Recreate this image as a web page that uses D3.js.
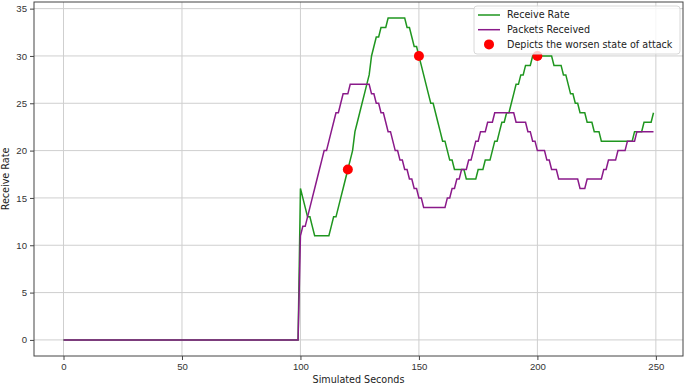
<!DOCTYPE html>
<html>
<head>
<meta charset="utf-8">
<script src="https://cdn.jsdelivr.net/npm/d3@7"></script>
<style>
    body { margin: 0; background: #fff; }
    svg { display: block; font-family: "DejaVu Sans", sans-serif; }
    .tick text { fill: #333; font-size: 9.6px; }
    .label { fill: #222; font-size: 9.6px; }
    .legend text { fill: #222; font-size: 9.6px; }
</style>
</head>
<body>
<svg id="chart" width="685" height="385"></svg>
<script>
// one value per simulated second, 0..249
const receiveRate = [
    0, 0, 0, 0, 0, 0, 0, 0, 0, 0, 0, 0, 0, 0, 0, 0, 0, 0, 0, 0, 0, 0, 0, 0, 0,
    0, 0, 0, 0, 0, 0, 0, 0, 0, 0, 0, 0, 0, 0, 0, 0, 0, 0, 0, 0, 0, 0, 0, 0, 0,
    0, 0, 0, 0, 0, 0, 0, 0, 0, 0, 0, 0, 0, 0, 0, 0, 0, 0, 0, 0, 0, 0, 0, 0, 0,
    0, 0, 0, 0, 0, 0, 0, 0, 0, 0, 0, 0, 0, 0, 0, 0, 0, 0, 0, 0, 0, 0, 0, 0, 0,
    16, 15, 14, 13, 13, 12, 11, 11, 11, 11,
    11, 11, 11, 12, 13, 13, 14, 15, 16, 17,
    18, 19, 20, 22, 23, 24, 25, 26, 27, 28,
    30, 31, 32, 32, 33, 33, 33, 34, 34, 34,
    34, 34, 34, 34, 34, 33, 33, 32, 31, 31,
    30, 29, 28, 27, 26, 25, 25, 24, 23, 22,
    21, 21, 20, 19, 19, 18, 18, 18, 18, 18,
    17, 17, 17, 17, 17, 18, 18, 18, 19, 19,
    19, 20, 21, 21, 22, 23, 23, 24, 24, 25,
    26, 27, 27, 28, 28, 29, 29, 29, 30, 30,
    30, 30, 30, 30, 30, 30, 30, 29, 29, 29,
    29, 28, 28, 27, 26, 26, 25, 25, 24, 24,
    24, 23, 23, 23, 22, 22, 22, 21, 21, 21,
    21, 21, 21, 21, 21, 21, 21, 21, 21, 21,
    21, 22, 22, 22, 22, 23, 23, 23, 23, 24
];

const packetsReceived = [
    0, 0, 0, 0, 0, 0, 0, 0, 0, 0, 0, 0, 0, 0, 0, 0, 0, 0, 0, 0, 0, 0, 0, 0, 0,
    0, 0, 0, 0, 0, 0, 0, 0, 0, 0, 0, 0, 0, 0, 0, 0, 0, 0, 0, 0, 0, 0, 0, 0, 0,
    0, 0, 0, 0, 0, 0, 0, 0, 0, 0, 0, 0, 0, 0, 0, 0, 0, 0, 0, 0, 0, 0, 0, 0, 0,
    0, 0, 0, 0, 0, 0, 0, 0, 0, 0, 0, 0, 0, 0, 0, 0, 0, 0, 0, 0, 0, 0, 0, 0, 0,
    11, 12, 12, 13, 14, 15, 16, 17, 18, 19,
    20, 20, 21, 22, 23, 24, 24, 25, 26, 26,
    26, 27, 27, 27, 27, 27, 27, 27, 27, 27,
    26, 26, 25, 25, 24, 24, 23, 22, 22, 21,
    20, 20, 19, 19, 18, 18, 17, 17, 16, 16,
    15, 15, 14, 14, 14, 14, 14, 14, 14, 14,
    14, 14, 15, 15, 16, 16, 17, 17, 18, 18,
    18, 19, 19, 20, 21, 21, 22, 22, 22, 23,
    23, 23, 24, 24, 24, 24, 24, 24, 24, 24,
    24, 23, 23, 23, 23, 23, 22, 22, 21, 21,
    20, 20, 20, 20, 19, 19, 18, 18, 18, 17,
    17, 17, 17, 17, 17, 17, 17, 17, 16, 16,
    16, 17, 17, 17, 17, 17, 17, 17, 18, 18,
    19, 19, 19, 19, 20, 20, 20, 20, 21, 21,
    21, 21, 22, 22, 22, 22, 22, 22, 22, 22
];

// the red markers
const attackSeconds = [120, 150, 200];
const attackValues = [18, 30, 30];

const xTicks = [0, 50, 100, 150, 200, 250];
const yTicks = [0, 5, 10, 15, 20, 25, 30, 35];

const legendLabels = ["Receive Rate", "Packets Received", "Depicts the worsen state of attack"];

const svg = d3.select("#chart"),
    plotLeft = 34, plotRight = 683, plotTop = 2, plotBottom = 356;

const x = d3.scaleLinear().domain([-12.45, 261.45]).range([plotLeft, plotRight]);
const y = d3.scaleLinear().domain([-1.7, 35.7]).range([plotBottom, plotTop]);

// grid
svg.append("g")
    .selectAll("line")
    .data(xTicks)
    .enter().append("line")
    .attr("x1", d => x(d)).attr("x2", d => x(d))
    .attr("y1", plotTop).attr("y2", plotBottom)
    .attr("stroke", "#cfcfcf").attr("stroke-width", 1);

svg.append("g")
    .selectAll("line")
    .data(yTicks)
    .enter().append("line")
    .attr("x1", plotLeft).attr("x2", plotRight)
    .attr("y1", d => y(d)).attr("y2", d => y(d))
    .attr("stroke", "#cfcfcf").attr("stroke-width", 1);

// axes
const xAxis = svg.append("g")
    .attr("transform", "translate(0," + plotBottom + ")")
    .call(d3.axisBottom(x).tickValues(xTicks).tickSize(4).tickPadding(3));
const yAxis = svg.append("g")
    .attr("transform", "translate(" + plotLeft + ",0)")
    .call(d3.axisLeft(y).tickValues(yTicks).tickSize(4).tickPadding(3));
[xAxis, yAxis].forEach(function (a) {
    a.select(".domain").remove();
    a.selectAll(".tick line").attr("stroke", "#444");
});

svg.append("rect")
    .attr("x", plotLeft).attr("y", plotTop)
    .attr("width", plotRight - plotLeft).attr("height", plotBottom - plotTop)
    .attr("fill", "none").attr("stroke", "#444").attr("stroke-width", 1);

// lines
const line = d3.line()
    .x((d, i) => x(i))
    .y(d => y(d));

svg.append("path")
    .datum(receiveRate)
    .attr("d", line)
    .attr("fill", "none").attr("stroke", "#1f961f").attr("stroke-width", 1.5);

svg.append("path")
    .datum(packetsReceived)
    .attr("d", line)
    .attr("fill", "none").attr("stroke", "#8a1a8a").attr("stroke-width", 1.5);

svg.append("g")
    .selectAll("circle")
    .data(attackSeconds)
    .enter().append("circle")
    .attr("cx", d => x(d))
    .attr("cy", (d, i) => y(attackValues[i]))
    .attr("r", 5)
    .attr("fill", "#ff0000");

// axis labels
svg.append("text")
    .attr("class", "label")
    .attr("x", (plotLeft + plotRight) / 2).attr("y", 383)
    .attr("text-anchor", "middle")
    .text("Simulated Seconds");

svg.append("text")
    .attr("class", "label")
    .attr("transform", "translate(9," + (plotTop + plotBottom) / 2 + ") rotate(-90)")
    .attr("text-anchor", "middle")
    .text("Receive Rate");

// legend
const legend = svg.append("g").attr("class", "legend");
legend.append("rect")
    .attr("x", 474).attr("y", 6)
    .attr("width", 206).attr("height", 48)
    .attr("rx", 3)
    .attr("fill", "#fff").attr("fill-opacity", 0.8)
    .attr("stroke", "#d8d8d8");

const rows = legend.selectAll(".row")
    .data(legendLabels)
    .enter().append("g")
    .attr("class", "row")
    .attr("transform", (d, i) => "translate(0," + (15 + i * 14.7) + ")");

rows.each(function (d, i) {
    const g = d3.select(this);
    if (i < 2) {
        g.append("line")
            .attr("x1", 478).attr("x2", 500)
            .attr("stroke", i === 0 ? "#1f961f" : "#8a1a8a")
            .attr("stroke-width", 1.5);
    } else {
        g.append("circle").attr("cx", 489).attr("r", 5).attr("fill", "#ff0000");
    }
    g.append("text")
        .attr("x", 507).attr("dy", "0.35em")
        .text(d);
});
</script>
</body>
</html>
